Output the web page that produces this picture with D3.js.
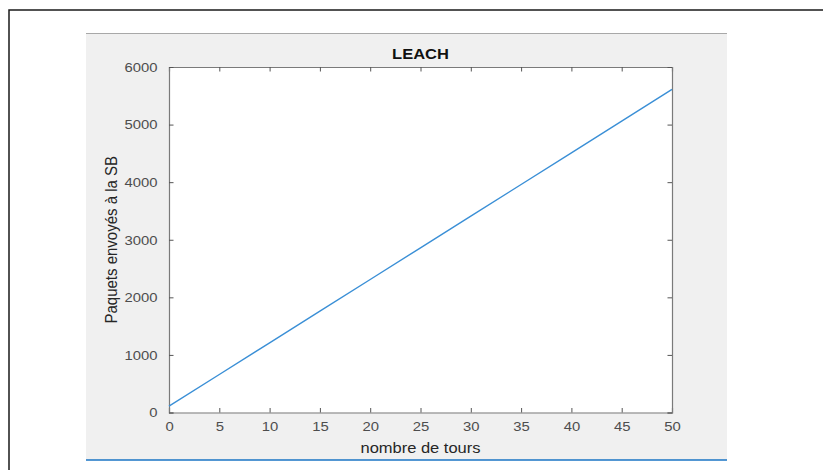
<!DOCTYPE html>
<html>
<head>
<meta charset="utf-8">
<script src="https://cdn.jsdelivr.net/npm/d3@7"></script>
<style>
  html, body { margin: 0; padding: 0; background: #fff; }
  svg { display: block; font-family: "Liberation Sans", Arial, Helvetica, sans-serif; }
</style>
</head>
<body>
<svg id="chart" width="823" height="470"></svg>
<script>
// Data
const rounds = [0, 5, 10, 15, 20, 25, 30, 35, 40, 45, 50];
const packets = [110, 660, 1210, 1760, 2310, 2860, 3410, 3960, 4510, 5060, 5610];
const xTicks = [0, 5, 10, 15, 20, 25, 30, 35, 40, 45, 50];
const yTicks = [0, 1000, 2000, 3000, 4000, 5000, 6000];
const title = "LEACH";
const xLabel = "nombre de tours";
const yLabel = "Paquets envoyés à la SB";

const SX = 1.1; // horizontal stretch of the text in the reference

const svg = d3.select("#chart");

// outer frame
svg.append("path")
  .attr("d", "M9,470 V10 H823")
  .attr("fill", "none").attr("stroke", "#1a1a1a").attr("stroke-width", 1.5);

// figure panel
svg.append("rect").attr("x", 86).attr("y", 33).attr("width", 641).attr("height", 427)
  .attr("fill", "#f0f0f0");
svg.append("line").attr("x1", 86).attr("x2", 727).attr("y1", 33.5).attr("y2", 33.5)
  .attr("stroke", "#a8a8a8").attr("stroke-width", 1);
svg.append("line").attr("x1", 86).attr("x2", 727).attr("y1", 460).attr("y2", 460)
  .attr("stroke", "#1a74c4").attr("stroke-width", 1.5);

const L = 169, R = 672, T = 67, B = 412.5;
const x = d3.scaleLinear().domain([0, 50]).range([L, R]);
const y = d3.scaleLinear().domain([0, 6000]).range([B, T]);

svg.append("rect").attr("x", L).attr("y", T).attr("width", R - L).attr("height", B - T)
  .attr("fill", "#fff");

const axisColor = "#7a7a7a";
const tickLen = 4.5;

const gx = svg.append("g").attr("transform", `translate(0,${B})`)
  .call(d3.axisBottom(x).tickValues(xTicks).tickSize(-tickLen).tickPadding(9).tickFormat(d3.format("d")));
const gxt = svg.append("g").attr("transform", `translate(0,${T})`)
  .call(d3.axisTop(x).tickValues(xTicks).tickSize(-tickLen).tickFormat(""));
const gy = svg.append("g").attr("transform", `translate(${L},0)`)
  .call(d3.axisLeft(y).tickValues(yTicks).tickSize(-tickLen).tickPadding(10.5).tickFormat(d3.format("d")));
const gyr = svg.append("g").attr("transform", `translate(${R},0)`)
  .call(d3.axisRight(y).tickValues(yTicks).tickSize(-tickLen).tickFormat(""));

[gx, gxt, gy, gyr].forEach(g => {
  g.select(".domain").attr("stroke", axisColor).attr("stroke-width", 1.2);
  g.selectAll(".tick line").attr("stroke", "#555").attr("stroke-width", 1);
  g.selectAll(".tick text").attr("fill", "#4d4d4d").style("font-size", "13.5px")
    .attr("font-family", "Liberation Sans, Arial, sans-serif")
    .attr("transform", `scale(${SX},1)`);
});
gx.selectAll(".tick text").attr("dy", "0.71em");

// line
const line = d3.line().x((d, i) => x(rounds[i])).y(d => y(d));
svg.append("path").datum(packets)
  .attr("d", line)
  .attr("fill", "none").attr("stroke", "#3a8fd6").attr("stroke-width", 1.4);

// title
svg.append("text").attr("transform", `translate(${(L + R) / 2},59) scale(${SX},1)`)
  .attr("text-anchor", "middle").attr("font-weight", "bold")
  .attr("fill", "#111").style("font-size", "15px").text(title);

// x label
svg.append("text").attr("transform", `translate(${(L + R) / 2},452.5) scale(${SX},1)`)
  .attr("text-anchor", "middle").attr("fill", "#262626")
  .style("font-size", "15px").text(xLabel);

// y label
svg.append("text").attr("transform", `translate(117,${(T + B) / 2}) scale(${SX},1) rotate(-90)`)
  .attr("text-anchor", "middle").attr("fill", "#262626")
  .style("font-size", "15px").text(yLabel);
</script>
</body>
</html>
